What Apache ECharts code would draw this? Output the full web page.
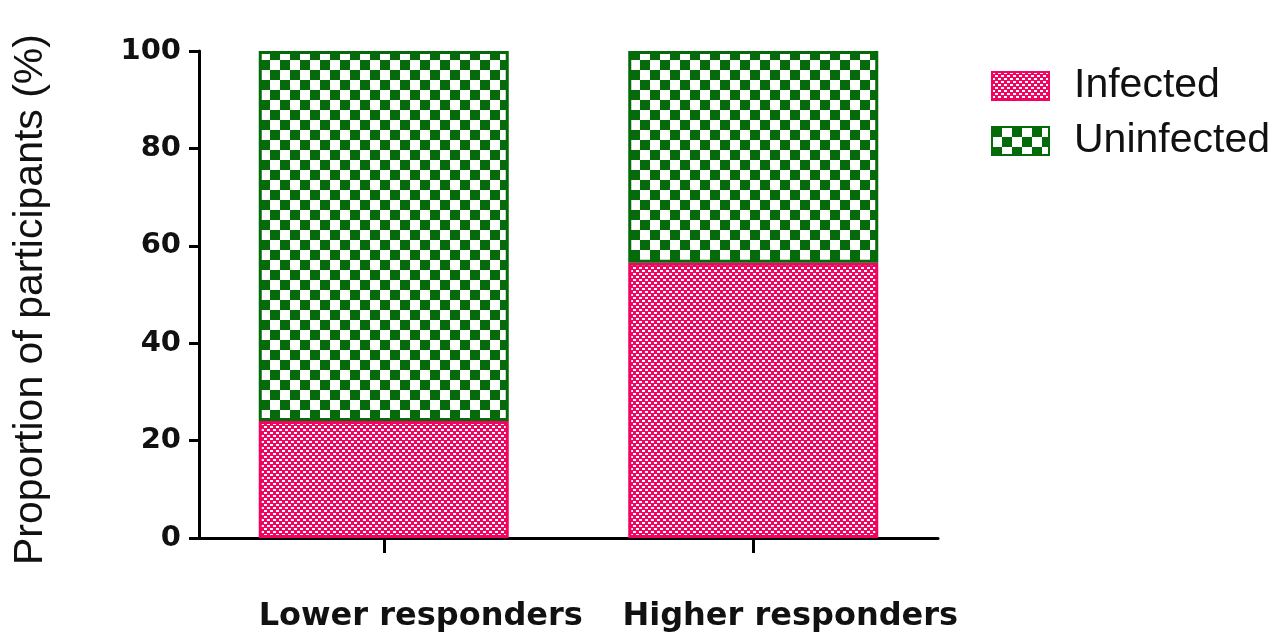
<!DOCTYPE html>
<html>
<head>
<meta charset="utf-8">
<script src="https://cdn.jsdelivr.net/npm/echarts@6/dist/echarts.min.js"></script>
<style>
html,body{margin:0;padding:0;background:#fff;}
#chart{width:1282px;height:636px;}
</style>
</head>
<body>
<div id="chart"></div>
<script>
const categories = ['Lower responders', 'Higher responders'];
const infected = [24, 56.5];
const uninfected = [76, 43.5];
const yTicks = [0, 20, 40, 60, 80, 100];
const seriesNames = ['Infected', 'Uninfected'];

const PINK = '#f0045f';
const GREEN = '#056a0a';

function makeChecker(size, cell, bg, fg, w, h) {
  const c = document.createElement('canvas');
  c.width = size; c.height = size;
  const ctx = c.getContext('2d');
  ctx.fillStyle = bg; ctx.fillRect(0, 0, size, size);
  ctx.fillStyle = fg;
  ctx.fillRect(0, 0, w, h);
  ctx.fillRect(cell, cell, w, h);
  return { image: c, repeat: 'repeat' };
}
const pinkPattern = makeChecker(6, 3, PINK, '#ffffff', 3, 2);
const greenPattern = makeChecker(20, 10, '#ffffff', GREEN, 10, 10);

const chart = echarts.init(document.getElementById('chart'), null, { renderer: 'canvas' });
chart.setOption({
  animation: false,
  backgroundColor: '#ffffff',
  grid: { left: 199, right: 344, top: 51, bottom: 98, containLabel: false },
  legend: {
    left: 986, top: 59, orient: 'vertical',
    itemWidth: 57, itemHeight: 28, itemGap: 11,
    icon: 'rect',
    textStyle: { fontFamily: 'Liberation Sans', fontSize: 41, color: '#111', lineHeight: 44, padding: [0, 0, 0, 20] },
    data: seriesNames
  },
  xAxis: {
    type: 'category', data: categories,
    axisLine: { lineStyle: { color: '#000', width: 3 } },
    axisTick: { show: true, interval: 0, alignWithLabel: true, length: 15, lineStyle: { color: '#000', width: 3 } },
    axisLabel: { interval: 0, margin: 63, fontFamily: 'DejaVu Sans', fontWeight: 'bold', fontSize: 32, color: '#111',
      padding: [0, 0, 0, 74] }
  },
  yAxis: {
    type: 'value', min: 0, max: 100, interval: 20,
    name: 'Proportion of participants (%)',
    nameLocation: 'middle', nameGap: 148, nameRotate: 90,
    nameTextStyle: { fontFamily: 'Liberation Sans', fontSize: 41, color: '#111', padding: [0, 10, 0, 0] },
    splitLine: { show: false },
    axisLine: { show: true, lineStyle: { color: '#000', width: 3 } },
    axisTick: { show: true, length: 10, lineStyle: { color: '#000', width: 3 } },
    axisLabel: { margin: 18, fontFamily: 'DejaVu Sans', fontWeight: 'bold', fontSize: 29, color: '#111',
      formatter: v => yTicks.includes(v) ? String(v) : '' }
  },
  series: [
    { name: seriesNames[0], type: 'bar', stack: 'total', data: infected, barWidth: 250,
      itemStyle: { color: pinkPattern, borderColor: PINK, borderWidth: 3 } },
    { name: seriesNames[1], type: 'bar', stack: 'total', data: uninfected, barWidth: 250,
      itemStyle: { color: greenPattern, borderColor: GREEN, borderWidth: 3 } }
  ]
});
</script>
</body>
</html>
